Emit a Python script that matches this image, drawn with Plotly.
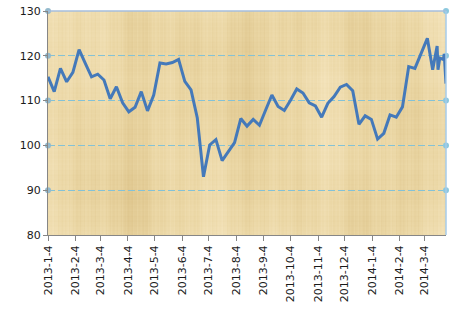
import base64
import struct
import zlib

import numpy as np
import plotly.graph_objects as go

dates = [
    "2013-01-04", "2013-01-11", "2013-01-18", "2013-01-25",
    "2013-02-01", "2013-02-08", "2013-02-15", "2013-02-22",
    "2013-03-01", "2013-03-08", "2013-03-15", "2013-03-22", "2013-03-29",
    "2013-04-05", "2013-04-12", "2013-04-19", "2013-04-26",
    "2013-05-03", "2013-05-10", "2013-05-17", "2013-05-24", "2013-05-31",
    "2013-06-07", "2013-06-14", "2013-06-21", "2013-06-28",
    "2013-07-05", "2013-07-12", "2013-07-19", "2013-07-26",
    "2013-08-02", "2013-08-09", "2013-08-16", "2013-08-23", "2013-08-30",
    "2013-09-06", "2013-09-13", "2013-09-20", "2013-09-27",
    "2013-10-04", "2013-10-11", "2013-10-18", "2013-10-25",
    "2013-11-01", "2013-11-08", "2013-11-15", "2013-11-22", "2013-11-29",
    "2013-12-06", "2013-12-13", "2013-12-20", "2013-12-27",
    "2014-01-03", "2014-01-10", "2014-01-17", "2014-01-24", "2014-01-31",
    "2014-02-07", "2014-02-14", "2014-02-21", "2014-02-28",
    "2014-03-07", "2014-03-13", "2014-03-18", "2014-03-19",
    "2014-03-21", "2014-03-25", "2014-03-26", "2014-03-28",
]
values = [
    115.3, 112.0, 117.2, 114.2,
    116.3, 121.4, 118.3, 115.3,
    115.9, 114.6, 110.4, 113.1, 109.5,
    107.5, 108.5, 112.0, 107.7,
    111.25, 118.4, 118.2, 118.5, 119.2,
    114.3, 112.4, 106.2, 93.0,
    100.1, 101.3, 96.6, 98.6,
    100.6, 106.0, 104.3, 105.8, 104.5,
    107.9, 111.25, 108.7, 107.8,
    110.1, 112.6, 111.7, 109.5,
    108.8, 106.3, 109.4, 110.9, 113.0,
    113.6, 112.2, 104.7, 106.6,
    105.8, 101.4, 102.7, 106.8, 106.3,
    108.6, 117.6, 117.2, 120.6,
    123.9, 116.9, 122.2, 116.9,
    119.5, 119.2, 120.4, 113.8,
]
y_ticks = [80, 90, 100, 110, 120, 130]
grid_levels = [90, 100, 110, 120, 130]
x_start = "2013-01-04"
x_end = "2014-03-28"


def parchment_png(w=398, h=224):
    # deterministic papyrus-like texture: vertical fibres, faint cross fibres
    xx = np.arange(w)[None, :].astype(float)
    yy = np.arange(h)[:, None].astype(float)
    v = (np.sin(xx * 0.37) * 0.4 + np.sin(xx * 0.113 + 1.3) * 0.6
         + np.sin(xx * 0.051 + 0.4) * 0.7 + np.sin(xx * 1.71) * 0.35
         + np.sin(xx * 2.9 + 0.5) * 0.2)
    hz = (np.sin(yy * 0.29 + 0.7) * 0.3 + np.sin(yy * 0.083 + 2.1) * 0.4
          + np.sin(yy * 1.37) * 0.25 + np.sin(yy * 2.6) * 0.15)
    blot = (np.sin(xx * 0.021 + yy * 0.017)
            + np.sin(xx * 0.034 - yy * 0.027 + 1.0)) * 0.3
    t = v * 0.6 + hz * 0.35 + blot
    t = t / np.abs(t).max()
    base = np.array([235.0, 215.0, 165.0])
    light = np.array([245.0, 229.0, 190.0])
    dark = np.array([222.0, 197.0, 140.0])
    tt = t[..., None]
    img = np.where(tt > 0, base + (light - base) * tt, base + (base - dark) * tt)
    img = np.clip(img, 0, 255).astype(np.uint8)
    raw = b"".join(b"\x00" + img[r].tobytes() for r in range(h))

    def chunk(tag, data):
        c = struct.pack(">I", len(data)) + tag + data
        return c + struct.pack(">I", zlib.crc32(tag + data) & 0xFFFFFFFF)

    png = (b"\x89PNG\r\n\x1a\n"
           + chunk(b"IHDR", struct.pack(">IIBBBBB", w, h, 8, 2, 0, 0, 0))
           + chunk(b"IDAT", zlib.compress(raw, 9))
           + chunk(b"IEND", b""))
    return "data:image/png;base64," + base64.b64encode(png).decode()


fig = go.Figure()

fig.add_trace(go.Scatter(
    x=[x_start] * len(grid_levels), y=grid_levels, mode="markers",
    marker=dict(size=6, color="#93B9CC"), cliponaxis=False,
    hoverinfo="skip", showlegend=False))
fig.add_trace(go.Scatter(
    x=[x_end] * len(grid_levels), y=grid_levels, mode="markers",
    marker=dict(size=6, color="#8CC8DE"), cliponaxis=False,
    hoverinfo="skip", showlegend=False))

fig.add_trace(go.Scatter(
    x=dates, y=values, mode="lines",
    line=dict(color="#4479BA", width=3),
    showlegend=False))

fig.add_shape(type="line", xref="paper", yref="paper", x0=0, x1=1, y0=1, y1=1,
              line=dict(color="#A6BEDD", width=1.5), layer="above")
fig.add_shape(type="line", xref="paper", yref="paper", x0=1, x1=1, y0=0, y1=1,
              line=dict(color="#A6CBEA", width=1.5), layer="above")

fig.add_layout_image(dict(
    source=parchment_png(), xref="paper", yref="paper", x=0, y=1,
    sizex=1, sizey=1, sizing="stretch", xanchor="left", yanchor="top",
    layer="below"))

fig.update_layout(
    width=473, height=319,
    margin=dict(l=48, r=27, t=11, b=84),
    paper_bgcolor="white",
    plot_bgcolor="#EAD6A3",
    font=dict(family="DejaVu Sans", size=11, color="#1A1A1A"),
    xaxis=dict(
        type="date", range=[x_start, x_end], automargin=False,
        tick0=x_start, dtick="M1", tickformat="%Y-%-m-%-d",
        tickangle=-90, ticks="outside", ticklen=5, tickcolor="#868686",
        showline=True, linecolor="#868686", linewidth=1,
        showgrid=False, zeroline=False,
    ),
    yaxis=dict(
        range=[80, 130], tickvals=y_ticks, automargin=False,
        ticks="outside", ticklen=4, tickcolor="#868686",
        showline=True, linecolor="#868686", linewidth=1,
        showgrid=True, gridcolor="#84C2D6", griddash="7px,3px", gridwidth=1,
        zeroline=False,
    ),
)

fig.write_html("out.html")
